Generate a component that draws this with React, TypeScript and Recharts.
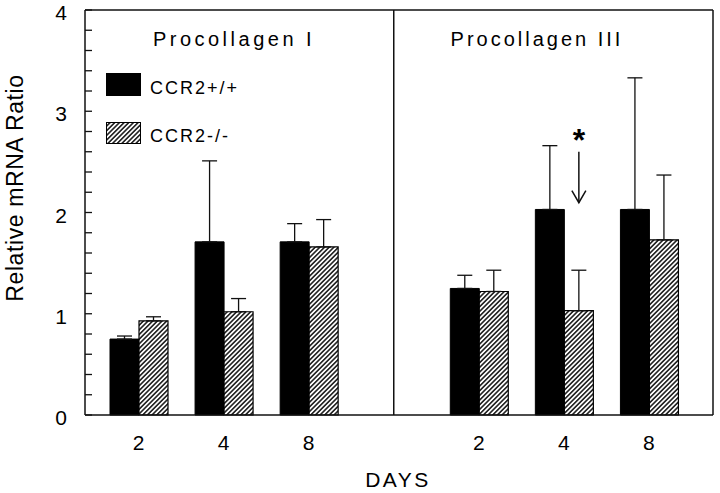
import { BarChart, Bar, XAxis, YAxis, ErrorBar, ReferenceLine, Legend, LabelList } from "recharts";

// one slot per bar pair; "split" is the empty slot where the two panels meet
const slots = ["I-2", "I-4", "I-8", "split", "III-2", "III-4", "III-8"];
const dayLabels = ["2", "4", "8", "", "2", "4", "8"];

// CCR2+/+ (black) and CCR2-/- (hatched) means with upper SD
const wildType = [0.75, 1.71, 1.71, null, 1.25, 2.03, 2.03];
const wildTypeSd = [0.03, 0.8, 0.18, null, 0.13, 0.63, 1.3];
const knockout = [0.93, 1.02, 1.66, null, 1.22, 1.03, 1.73];
const knockoutSd = [0.04, 0.13, 0.27, null, 0.21, 0.4, 0.64];
const significance = ["", "", "", "", "", "*", ""];

const yTicks = [0, 0.2, 0.4, 0.6, 0.8, 1, 1.2, 1.4, 1.6, 1.8, 2, 2.2, 2.4, 2.6, 2.8, 3, 3.2, 3.4, 3.6, 3.8, 4];
const panelTitles = ["Procollagen I", "Procollagen III"];
const seriesNames = ["CCR2+/+", "CCR2-/-"];

const FONT = '"Liberation Sans", Arial, Helvetica, sans-serif';
const INK = "#111";

const data = slots.map((slot, i) => ({
  slot,
  wt: wildType[i],
  wtErr: wildTypeSd[i] == null ? null : [0, wildTypeSd[i]],
  ko: knockout[i],
  koErr: knockoutSd[i] == null ? null : [0, knockoutSd[i]],
  mark: significance[i],
}));

function YTick(props: any) {
  const { x, y, payload } = props;
  const v = payload.value as number;
  const major = Math.abs(v - Math.round(v)) < 1e-6;
  return (
    <g>
      <line x1={x} x2={x + 7} y1={y} y2={y} stroke={INK} strokeWidth={1.3} />
      {major && (
        <text x={x - 18} y={y} dy={10} textAnchor="end" fontSize={21} fontFamily={FONT} fill="#000">
          {Math.round(v)}
        </text>
      )}
    </g>
  );
}

function XTick(props: any) {
  const { x, y, payload } = props;
  const label = dayLabels[slots.indexOf(payload.value)];
  if (!label) return null;
  return (
    <text x={x} y={y} dy={35} textAnchor="middle" fontSize={21} fontFamily={FONT} fill="#000">
      {label}
    </text>
  );
}

// asterisk + arrow above the significant bar
function SigMark(props: any) {
  const { x, y, width, value } = props;
  if (!value) return null;
  const cx = x + width / 2;
  const tip = y - 108;
  return (
    <g>
      <text x={cx} y={y - 160} textAnchor="middle" fontSize={32} fontWeight="bold" fontFamily={FONT} fill="#000">
        {value}
      </text>
      <line x1={cx} x2={cx} y1={y - 159} y2={tip} stroke={INK} strokeWidth={1.5} />
      <polyline points={`${cx - 7},${tip - 12} ${cx},${tip} ${cx + 7},${tip - 12}`} fill="none" stroke={INK} strokeWidth={1.5} />
    </g>
  );
}

function Key() {
  return (
    <svg width={200} height={80} style={{ display: "block", overflow: "visible" }}>
      <defs>
        <pattern id="hatchKey" patternUnits="userSpaceOnUse" width={3.3} height={3.3} patternTransform="rotate(45)">
          <rect width={3.3} height={3.3} fill="#fff" />
          <line x1={1.65} y1={0} x2={1.65} y2={3.3} stroke="#000" strokeWidth={1.4} />
        </pattern>
      </defs>
      <rect x={0.5} y={0.5} width={34} height={22} fill="#000" stroke="#000" />
      <text x={44} y={21} fontSize={18} letterSpacing={2} fontFamily={FONT} fill="#000">
        {seriesNames[0]}
      </text>
      <rect x={0.5} y={49.5} width={34} height={21} fill="url(#hatchKey)" stroke="#000" />
      <text x={44} y={69} fontSize={18} letterSpacing={2} fontFamily={FONT} fill="#000">
        {seriesNames[1]}
      </text>
    </svg>
  );
}

export default function App() {
  return (
    <div style={{ position: "absolute", left: 0, top: 0, width: 720, height: 493, background: "#fff" }}>
      <BarChart
        width={720}
        height={493}
        data={data}
        margin={{ top: 10, right: 6, bottom: 0, left: 0 }}
        barGap={0}
        barSize={29}
      >
        <defs>
          <pattern id="hatch" patternUnits="userSpaceOnUse" width={3.3} height={3.3} patternTransform="rotate(45)">
            <rect width={3.3} height={3.3} fill="#fff" />
            <line x1={1.65} y1={0} x2={1.65} y2={3.3} stroke="#000" strokeWidth={1.4} />
          </pattern>
        </defs>
        <XAxis
          dataKey="slot"
          interval={0}
          padding={{ left: 11, right: 21.5 }}
          height={78}
          tickSize={0}
          tickMargin={0}
          tickLine={false}
          axisLine={{ stroke: INK, strokeWidth: 1.5 }}
          tick={<XTick />}
        />
        <YAxis
          domain={[0, 4]}
          ticks={yTicks}
          interval={0}
          width={85}
          tickSize={0}
          tickMargin={0}
          tickLine={false}
          axisLine={{ stroke: INK, strokeWidth: 1.5 }}
          tick={<YTick />}
        />
        <YAxis
          yAxisId="frame"
          orientation="right"
          domain={[0, 4]}
          width={1}
          tick={false}
          tickLine={false}
          axisLine={{ stroke: INK, strokeWidth: 1.5 }}
        />
        <ReferenceLine y={4} stroke={INK} strokeWidth={1.5} />
        <ReferenceLine x="split" stroke={INK} strokeWidth={1.5} />
        <Legend
          layout="vertical"
          align="center"
          verticalAlign="middle"
          content={<Key />}
          wrapperStyle={{ left: 106, top: 73, width: 200, height: 80 }}
        />
        <Bar dataKey="wt" fill="#000" stroke="#000" strokeWidth={1} isAnimationActive={false}>
          <ErrorBar dataKey="wtErr" direction="y" width={7.5} stroke={INK} strokeWidth={1.3} />
        </Bar>
        <Bar dataKey="ko" fill="url(#hatch)" stroke="#000" strokeWidth={1.2} isAnimationActive={false}>
          <ErrorBar dataKey="koErr" direction="y" width={7.5} stroke={INK} strokeWidth={1.3} />
          <LabelList dataKey="mark" content={<SigMark />} />
        </Bar>
      </BarChart>
      <svg
        width={720}
        height={493}
        style={{ position: "absolute", left: 0, top: 0, pointerEvents: "none" }}
      >
        <text x={234} y={46} textAnchor="middle" fontSize={20} letterSpacing={3.5} fontFamily={FONT} fill="#000">
          {panelTitles[0]}
        </text>
        <text x={537} y={46} textAnchor="middle" fontSize={20} letterSpacing={3} fontFamily={FONT} fill="#000">
          {panelTitles[1]}
        </text>
        <text
          transform="translate(23,188) rotate(-90)"
          textAnchor="middle"
          fontSize={23}
          letterSpacing={0.6}
          fontFamily={FONT}
          fill="#000"
        >
          Relative mRNA Ratio
        </text>
        <text x={398} y={487} textAnchor="middle" fontSize={21} letterSpacing={2.5} fontFamily={FONT} fill="#000">
          DAYS
        </text>
      </svg>
    </div>
  );
}
